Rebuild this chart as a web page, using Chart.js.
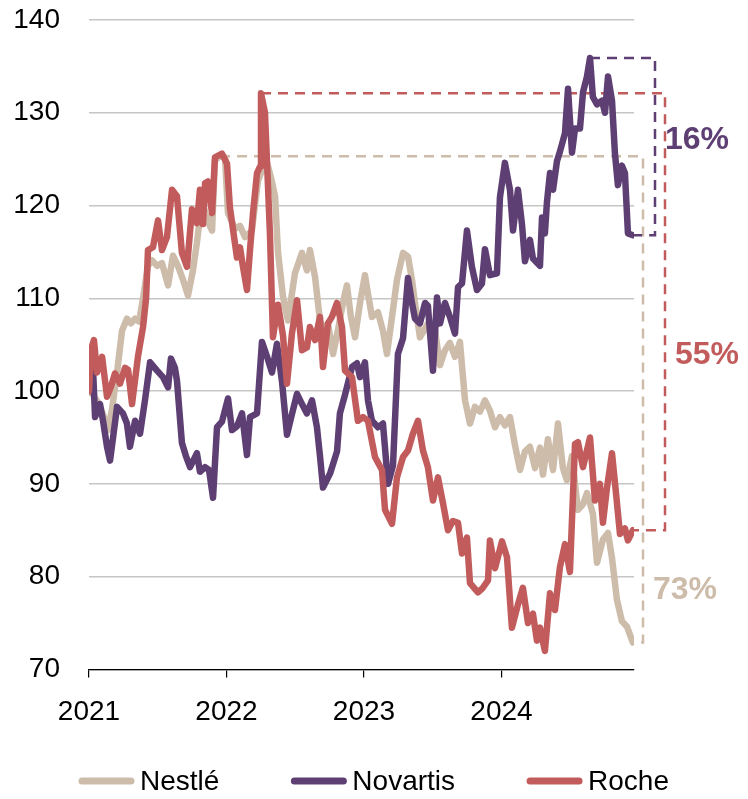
<!DOCTYPE html>
<html>
<head>
<meta charset="utf-8">
<script src="https://cdn.jsdelivr.net/npm/chart.js@4.4.1/dist/chart.umd.min.js"></script>
<style>
  body{margin:0;background:#fff;}
  #wrap{width:748px;height:799px;}
</style>
</head>
<body>
<div id="wrap"><canvas id="chart" width="748" height="799"></canvas></div>
<script>
var series = ["Nestlé", "Novartis", "Roche"];
var colores = ["#cdbcaa", "#5e3f73", "#c25c5c"];
var yearTicks = [2021, 2022, 2023, 2024];
var pctLabels = ["73%", "16%", "55%"];

var nestleT = [2021.000,2021.029,2021.065,2021.102,2021.138,2021.167,2021.204,2021.240,2021.276,2021.305,2021.335,2021.364,2021.393,2021.429,2021.458,2021.495,2021.531,2021.575,2021.611,2021.647,2021.684,2021.720,2021.756,2021.785,2021.822,2021.858,2021.895,2021.916,2021.953,2021.989,2022.011,2022.062,2022.098,2022.135,2022.185,2022.229,2022.265,2022.295,2022.324,2022.353,2022.375,2022.411,2022.447,2022.476,2022.498,2022.549,2022.585,2022.607,2022.644,2022.680,2022.709,2022.738,2022.775,2022.811,2022.847,2022.876,2022.905,2022.935,2022.971,2023.007,2023.029,2023.058,2023.102,2023.138,2023.167,2023.204,2023.240,2023.284,2023.320,2023.349,2023.371,2023.407,2023.436,2023.465,2023.516,2023.553,2023.589,2023.625,2023.662,2023.698,2023.735,2023.771,2023.807,2023.844,2023.880,2023.916,2023.953,2023.989,2024.025,2024.062,2024.098,2024.135,2024.171,2024.207,2024.244,2024.280,2024.302,2024.338,2024.375,2024.411,2024.447,2024.476,2024.513,2024.556,2024.593,2024.622,2024.665,2024.695,2024.738,2024.775,2024.804,2024.840,2024.876,2024.913,2024.956];
var nestleV = [100,99.6,98.8,97.5,95.8,98,102,106.5,107.8,107.3,107.8,107.5,110,113.5,114.1,113.5,113.8,111.4,114.6,113.5,112,110.3,113,116,120.6,118.5,117.3,124.9,125.3,125.2,119.2,117.5,117.8,116.6,117.3,122.7,124,124.6,123,121,114.9,110.2,107.6,110.5,112.7,114.9,113,115.2,112.3,107.6,106.5,107.3,104,106.6,109.5,111.4,108,105.8,109.5,112.5,110.5,108,108.5,106.5,104,108,112,114.9,114.5,112,109.5,105.8,106.5,107.3,106.6,102.8,104.4,105.2,103.7,105.3,99,96.5,98.3,97.8,99,97.9,96.1,97.2,96.3,97.2,94.2,91.5,93.5,94,91.7,93.9,91,94.8,91.5,96.5,91.7,90.4,93,87.2,87.8,89,86.8,81.5,84,84.7,82,77.5,75.2,74.6,72.9];

var novartisT = [2021.000,2021.029,2021.044,2021.080,2021.102,2021.131,2021.153,2021.175,2021.204,2021.247,2021.276,2021.298,2021.335,2021.371,2021.407,2021.444,2021.495,2021.538,2021.575,2021.596,2021.625,2021.640,2021.676,2021.705,2021.735,2021.785,2021.807,2021.844,2021.873,2021.902,2021.931,2021.967,2022.011,2022.040,2022.076,2022.113,2022.149,2022.171,2022.222,2022.258,2022.295,2022.331,2022.367,2022.404,2022.440,2022.476,2022.513,2022.549,2022.585,2022.622,2022.658,2022.680,2022.702,2022.753,2022.804,2022.825,2022.862,2022.913,2022.949,2022.971,2023.007,2023.029,2023.058,2023.102,2023.138,2023.175,2023.211,2023.247,2023.284,2023.320,2023.349,2023.371,2023.407,2023.444,2023.465,2023.502,2023.531,2023.553,2023.589,2023.625,2023.662,2023.684,2023.713,2023.749,2023.785,2023.822,2023.858,2023.880,2023.916,2023.967,2023.989,2024.025,2024.062,2024.084,2024.120,2024.149,2024.171,2024.207,2024.229,2024.280,2024.295,2024.316,2024.331,2024.353,2024.375,2024.404,2024.425,2024.462,2024.484,2024.513,2024.535,2024.571,2024.593,2024.622,2024.644,2024.665,2024.695,2024.731,2024.753,2024.775,2024.804,2024.825,2024.847,2024.876,2024.898,2024.920,2024.956];
var novartisV = [100,102.5,97.2,98.6,96.8,94,92.5,95,98.3,97.6,96.5,94,96.8,95.4,99,103.1,102.2,101.5,100.4,103.5,102.5,101.1,94.4,93,91.8,93.3,91.3,91.8,91.5,88.5,96.1,96.7,99.2,95.8,96.2,97.6,93.1,97.2,97.6,105.3,103.7,102,105.1,101,95.3,97.5,99.7,98.6,97.6,99,96.1,93,89.6,91.1,93.5,97.6,99.6,102.6,103,101.5,103.1,99,96.8,96.1,96.5,90,92,104,105.7,112.2,109.5,107.8,107.3,109.5,109.2,102.2,110.1,107.3,109.5,108,106.2,111.2,111.6,117.3,113.4,110.9,111.6,115.3,112.5,112.7,120.9,124.6,121.7,117.3,121.7,118,114,116.3,114.3,113.5,118.7,117,120.4,123.5,121.7,124.8,125.8,127.8,132.6,125.7,128.3,128.3,132.2,133.9,135.9,131.7,130.9,131.3,130,133.9,131.3,125.7,122.2,124.3,123.5,117,116.8];

var rocheT = [2021.000,2021.015,2021.036,2021.058,2021.095,2021.131,2021.160,2021.189,2021.225,2021.262,2021.284,2021.313,2021.356,2021.393,2021.415,2021.429,2021.465,2021.502,2021.531,2021.567,2021.604,2021.640,2021.676,2021.713,2021.749,2021.785,2021.807,2021.829,2021.844,2021.865,2021.895,2021.916,2021.967,2022.004,2022.025,2022.076,2022.098,2022.120,2022.149,2022.171,2022.193,2022.222,2022.244,2022.251,2022.280,2022.316,2022.338,2022.375,2022.411,2022.440,2022.476,2022.513,2022.549,2022.585,2022.607,2022.644,2022.680,2022.702,2022.738,2022.767,2022.804,2022.840,2022.862,2022.913,2022.956,2022.993,2023.029,2023.080,2023.131,2023.153,2023.204,2023.240,2023.284,2023.320,2023.356,2023.393,2023.429,2023.465,2023.502,2023.538,2023.575,2023.611,2023.647,2023.684,2023.713,2023.749,2023.771,2023.829,2023.865,2023.902,2023.916,2023.953,2024.004,2024.040,2024.076,2024.120,2024.156,2024.193,2024.229,2024.258,2024.280,2024.316,2024.353,2024.389,2024.425,2024.462,2024.498,2024.535,2024.556,2024.593,2024.644,2024.680,2024.716,2024.738,2024.767,2024.804,2024.833,2024.862,2024.898,2024.920,2024.956];
var rocheV = [100,104.5,105.5,102,103.7,99.4,100.5,101.9,100.8,102.5,102.3,98.6,103.7,106.9,110,115.2,115.5,118.4,115.2,116.6,121.7,121,114.9,113.4,119.6,118.1,121.7,118,122.4,122.6,119.2,125.2,125.6,124.5,119.8,114.4,115.5,113.4,110.9,115.2,119.2,123.5,124.2,132.1,130,117,105.8,109.3,106,100.8,106.2,109.8,104.4,104.7,106.9,105.5,108,102.6,107.3,108,109.5,106.9,102.2,101.5,96.8,97.2,96.8,92.9,91.5,87.2,85.7,90.7,92.9,93.6,95.4,96.8,93.6,91.8,88.2,90.7,87.9,85,86,85.8,82.5,84.2,79.3,78.3,78.8,79.6,83.9,80.9,83.8,82.1,74.5,77,78.8,75,76,73.1,74.5,72,78.2,76.4,81,83.5,80.5,94.3,94.5,91.8,95,88.2,90,85.8,89.5,93.3,89,84.6,85.2,83.9,85];

var fuente = "'Liberation Sans', Arial, sans-serif";

function puntos(t, v){
  var out = [];
  for (var i = 0; i < t.length; i++) {
    out.push({x: t[i], y: v[i]});
  }
  return out;
}

// dashed brackets from peak to latest value, with the drop in %
var corchetes = {
  id: "corchetes",
  beforeDatasetsDraw: function(chart){
    var ctx = chart.ctx;
    var xs = chart.scales.x, ys = chart.scales.y;
    var derecha = chart.chartArea.right;
    var extra = [9, 21, 31];
    var yTexto = [78.5, 127.1, 103.9];
    chart.data.datasets.forEach(function(ds, i){
      var pico = ds.data[0];
      ds.data.forEach(function(p){ if (p.y > pico.y) pico = p; });
      var ultimo = ds.data[ds.data.length - 1];
      var bx = derecha + extra[i];
      ctx.save();
      ctx.strokeStyle = colores[i];
      ctx.lineWidth = 2.5;
      ctx.setLineDash([10, 7]);
      ctx.beginPath();
      ctx.moveTo(xs.getPixelForValue(pico.x), ys.getPixelForValue(pico.y));
      ctx.lineTo(bx, ys.getPixelForValue(pico.y));
      ctx.lineTo(bx, ys.getPixelForValue(ultimo.y));
      ctx.lineTo(xs.getPixelForValue(ultimo.x), ys.getPixelForValue(ultimo.y));
      ctx.stroke();
      ctx.setLineDash([]);
      ctx.fillStyle = colores[i];
      ctx.font = "bold 32px " + fuente;
      ctx.textAlign = "left";
      ctx.textBaseline = "middle";
      ctx.fillText(pctLabels[i], bx + 10, ys.getPixelForValue(yTexto[i]));
      ctx.restore();
    });
  }
};

// legend drawn by hand so it can sit centred on the whole page
var leyenda = {
  id: "leyenda",
  afterDraw: function(chart){
    var ctx = chart.ctx;
    var largo = 55, hueco = 6, sep = 72;
    ctx.save();
    ctx.font = "28px " + fuente;
    var total = 0;
    var anchos = series.map(function(s){ return ctx.measureText(s).width; });
    anchos.forEach(function(w){ total += largo + hueco + w; });
    total += sep * (series.length - 1);
    var x = (chart.width - total) / 2;
    var y = chart.height - 18;
    series.forEach(function(s, i){
      ctx.strokeStyle = colores[i];
      ctx.lineWidth = 7;
      ctx.lineCap = "round";
      ctx.beginPath();
      ctx.moveTo(x + 3, y);
      ctx.lineTo(x + largo - 3, y);
      ctx.stroke();
      ctx.fillStyle = "#000";
      ctx.textAlign = "left";
      ctx.textBaseline = "middle";
      ctx.fillText(s, x + largo + hueco, y + 1);
      x += largo + hueco + anchos[i] + sep;
    });
    ctx.restore();
  }
};

var datos = {
  type: "line",
  data: {
    datasets: [
      {label: series[0], data: puntos(nestleT, nestleV), borderColor: colores[0], backgroundColor: colores[0], borderWidth: 6.5, order: 3},
      {label: series[1], data: puntos(novartisT, novartisV), borderColor: colores[1], backgroundColor: colores[1], borderWidth: 6.5, order: 2},
      {label: series[2], data: puntos(rocheT, rocheV), borderColor: colores[2], backgroundColor: colores[2], borderWidth: 6.5, order: 1}
    ]
  },
  options: {
    responsive: false,
    animation: false,
    layout: {padding: {left: 0, right: 114, top: 20, bottom: 52}},
    elements: {
      line: {tension: 0, borderJoinStyle: "round", borderCapStyle: "round"},
      point: {radius: 0}
    },
    plugins: {
      tooltip: {enabled: false},
      legend: {display: false}
    },
    scales: {
      x: {
        type: "linear",
        min: 2021,
        max: 2024.964,
        afterBuildTicks: function(scale){
          scale.ticks = yearTicks.map(function(v){ return {value: v}; });
        },
        ticks: {
          color: "#000",
          font: {family: fuente, size: 28},
          padding: 18,
          maxRotation: 0,
          callback: function(v){ return String(v); }
        },
        grid: {drawOnChartArea: false, color: "#000", tickLength: 8, lineWidth: 1.2},
        border: {display: true, color: "#000", width: 1.2}
      },
      y: {
        min: 70,
        max: 140,
        afterFit: function(scale){
          scale.width = 89;
          scale.paddingTop = 0;
          scale.paddingBottom = 0;
        },
        ticks: {
          stepSize: 10,
          color: "#000",
          font: {family: fuente, size: 28},
          padding: 29
        },
        grid: {color: "#c6c6c6", lineWidth: 1.5, drawTicks: false},
        border: {display: false}
      }
    }
  },
  plugins: [corchetes, leyenda]
};

var canvas = document.getElementById("chart").getContext("2d");
window.grafico = new Chart(canvas, datos);
</script>
</body>
</html>
